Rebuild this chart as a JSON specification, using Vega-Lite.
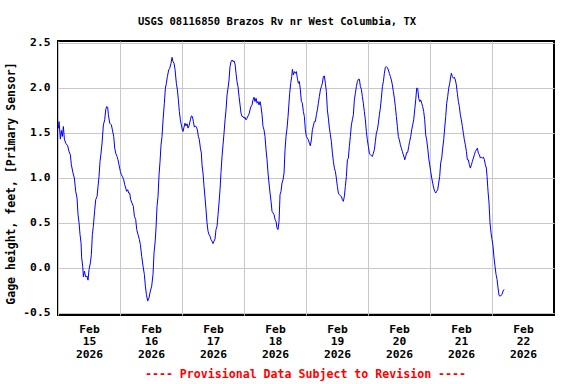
{
"$schema": "https://vega.github.io/schema/vega-lite/v6.json",
"width": 496, "height": 274,
"autosize": {"type": "none"},
"padding": {"left": 58, "top": 41, "right": 22, "bottom": 69},
"background": "white",
"title": {"text": "USGS 08116850 Brazos Rv nr West Columbia, TX", "font": "DejaVu Sans Mono", "fontSize": 10.5, "fontWeight": "bold", "color": "black", "anchor": "middle", "dx": -29, "offset": 1, "baseline": "alphabetic"},
"config": {"view": {"stroke": "black", "strokeWidth": 2}},
"data": {"values": [
{"t":"2026-02-14T12:08","v":1.55},{"t":"2026-02-14T12:24","v":1.625},{"t":"2026-02-14T12:55","v":1.43},{"t":"2026-02-14T13:18","v":1.526},{"t":"2026-02-14T13:41","v":1.46},{"t":"2026-02-14T14:05","v":1.57},{"t":"2026-02-14T14:28","v":1.43},{"t":"2026-02-14T14:59","v":1.385},{"t":"2026-02-14T15:45","v":1.356},{"t":"2026-02-14T16:16","v":1.293},{"t":"2026-02-14T16:47","v":1.256},{"t":"2026-02-14T17:10","v":1.145},{"t":"2026-02-14T17:49","v":1.053},{"t":"2026-02-14T18:20","v":0.997},{"t":"2026-02-14T18:51","v":0.85},{"t":"2026-02-14T19:22","v":0.776},{"t":"2026-02-14T19:45","v":0.591},{"t":"2026-02-14T20:08","v":0.506},{"t":"2026-02-14T20:32","v":0.369},{"t":"2026-02-14T20:55","v":0.277},{"t":"2026-02-14T21:10","v":0.111},{"t":"2026-02-14T21:34","v":0.018},{"t":"2026-02-14T21:49","v":-0.10},{"t":"2026-02-14T22:13","v":-0.037},{"t":"2026-02-14T22:43","v":-0.10},{"t":"2026-02-14T23:14","v":-0.092},{"t":"2026-02-14T23:37","v":-0.137},
{"t":"2026-02-15T00:01","v":-0.018},{"t":"2026-02-15T00:32","v":0.055},{"t":"2026-02-15T00:55","v":0.148},{"t":"2026-02-15T01:18","v":0.369},{"t":"2026-02-15T01:41","v":0.462},{"t":"2026-02-15T02:12","v":0.639},{"t":"2026-02-15T02:36","v":0.757},{"t":"2026-02-15T03:07","v":0.794},{"t":"2026-02-15T03:30","v":0.905},{"t":"2026-02-15T03:53","v":1.016},{"t":"2026-02-15T04:16","v":1.182},{"t":"2026-02-15T04:40","v":1.274},{"t":"2026-02-15T05:03","v":1.385},{"t":"2026-02-15T05:34","v":1.588},{"t":"2026-02-15T06:05","v":1.644},{"t":"2026-02-15T06:28","v":1.755},{"t":"2026-02-15T06:51","v":1.792},{"t":"2026-02-15T07:14","v":1.784},{"t":"2026-02-15T07:30","v":1.70},{"t":"2026-02-15T08:01","v":1.607},{"t":"2026-02-15T08:40","v":1.588},{"t":"2026-02-15T09:03","v":1.533},{"t":"2026-02-15T09:34","v":1.459},{"t":"2026-02-15T09:57","v":1.33},{"t":"2026-02-15T10:20","v":1.274},{"t":"2026-02-15T10:51","v":1.238},{"t":"2026-02-15T11:14","v":1.20},{"t":"2026-02-15T11:37","v":1.145},{"t":"2026-02-15T12:08","v":1.071},{"t":"2026-02-15T12:32","v":1.034},{"t":"2026-02-15T12:55","v":1.016},{"t":"2026-02-15T13:26","v":0.979},{"t":"2026-02-15T13:49","v":0.924},{"t":"2026-02-15T14:12","v":0.887},{"t":"2026-02-15T14:35","v":0.85},{"t":"2026-02-15T14:59","v":0.868},{"t":"2026-02-15T15:22","v":0.831},{"t":"2026-02-15T15:45","v":0.831},{"t":"2026-02-15T16:08","v":0.757},{"t":"2026-02-15T16:39","v":0.72},{"t":"2026-02-15T17:10","v":0.683},{"t":"2026-02-15T17:34","v":0.573},{"t":"2026-02-15T18:05","v":0.536},{"t":"2026-02-15T18:28","v":0.425},{"t":"2026-02-15T18:59","v":0.369},{"t":"2026-02-15T19:30","v":0.314},{"t":"2026-02-15T19:53","v":0.259},{"t":"2026-02-15T20:24","v":0.129},{"t":"2026-02-15T20:55","v":0.018},{"t":"2026-02-15T21:26","v":-0.074},{"t":"2026-02-15T21:49","v":-0.203},{"t":"2026-02-15T22:13","v":-0.296},{"t":"2026-02-15T22:43","v":-0.369},{"t":"2026-02-15T23:14","v":-0.332},{"t":"2026-02-15T23:45","v":-0.259},
{"t":"2026-02-16T00:16","v":-0.203},{"t":"2026-02-16T00:47","v":-0.074},{"t":"2026-02-16T01:10","v":0.166},{"t":"2026-02-16T01:34","v":0.277},{"t":"2026-02-16T01:57","v":0.443},{"t":"2026-02-16T02:20","v":0.683},{"t":"2026-02-16T02:43","v":0.794},{"t":"2026-02-16T03:07","v":1.034},{"t":"2026-02-16T03:30","v":1.182},{"t":"2026-02-16T03:53","v":1.367},{"t":"2026-02-16T04:16","v":1.459},{"t":"2026-02-16T04:40","v":1.644},{"t":"2026-02-16T05:10","v":1.829},{"t":"2026-02-16T05:34","v":1.995},{"t":"2026-02-16T05:57","v":2.05},{"t":"2026-02-16T06:20","v":2.124},{"t":"2026-02-16T06:51","v":2.198},{"t":"2026-02-16T07:14","v":2.216},{"t":"2026-02-16T07:45","v":2.272},{"t":"2026-02-16T08:08","v":2.338},{"t":"2026-02-16T08:32","v":2.29},{"t":"2026-02-16T08:55","v":2.272},{"t":"2026-02-16T09:18","v":2.205},{"t":"2026-02-16T09:49","v":2.05},{"t":"2026-02-16T10:13","v":1.976},{"t":"2026-02-16T10:36","v":1.866},{"t":"2026-02-16T10:59","v":1.736},{"t":"2026-02-16T11:22","v":1.644},{"t":"2026-02-16T11:45","v":1.588},{"t":"2026-02-16T12:08","v":1.533},{"t":"2026-02-16T12:24","v":1.515},{"t":"2026-02-16T12:47","v":1.563},{"t":"2026-02-16T13:10","v":1.607},{"t":"2026-02-16T13:34","v":1.577},{"t":"2026-02-16T13:57","v":1.60},{"t":"2026-02-16T14:20","v":1.552},{"t":"2026-02-16T14:43","v":1.577},{"t":"2026-02-16T15:14","v":1.644},{"t":"2026-02-16T15:38","v":1.688},{"t":"2026-02-16T16:01","v":1.681},{"t":"2026-02-16T16:24","v":1.625},{"t":"2026-02-16T16:47","v":1.563},{"t":"2026-02-16T17:11","v":1.577},{"t":"2026-02-16T17:34","v":1.563},{"t":"2026-02-16T17:57","v":1.533},{"t":"2026-02-16T18:20","v":1.459},{"t":"2026-02-16T18:43","v":1.422},{"t":"2026-02-16T19:07","v":1.33},{"t":"2026-02-16T19:30","v":1.274},{"t":"2026-02-16T19:45","v":1.145},{"t":"2026-02-16T20:08","v":1.053},{"t":"2026-02-16T20:32","v":0.905},{"t":"2026-02-16T20:55","v":0.776},{"t":"2026-02-16T21:18","v":0.646},{"t":"2026-02-16T21:41","v":0.499},{"t":"2026-02-16T22:05","v":0.406},{"t":"2026-02-16T22:28","v":0.369},{"t":"2026-02-16T22:51","v":0.351},{"t":"2026-02-16T23:14","v":0.314},{"t":"2026-02-16T23:38","v":0.296},
{"t":"2026-02-17T00:01","v":0.27},{"t":"2026-02-17T00:24","v":0.296},{"t":"2026-02-17T00:47","v":0.321},{"t":"2026-02-17T01:10","v":0.425},{"t":"2026-02-17T01:34","v":0.462},{"t":"2026-02-17T01:57","v":0.591},{"t":"2026-02-17T02:20","v":0.72},{"t":"2026-02-17T02:43","v":0.868},{"t":"2026-02-17T03:07","v":1.071},{"t":"2026-02-17T03:30","v":1.238},{"t":"2026-02-17T03:53","v":1.367},{"t":"2026-02-17T04:16","v":1.496},{"t":"2026-02-17T04:40","v":1.644},{"t":"2026-02-17T05:03","v":1.755},{"t":"2026-02-17T05:26","v":1.921},{"t":"2026-02-17T05:49","v":1.995},{"t":"2026-02-17T06:12","v":2.087},{"t":"2026-02-17T06:35","v":2.235},{"t":"2026-02-17T06:59","v":2.29},{"t":"2026-02-17T07:22","v":2.309},{"t":"2026-02-17T07:45","v":2.29},{"t":"2026-02-17T08:08","v":2.30},{"t":"2026-02-17T08:32","v":2.264},{"t":"2026-02-17T08:55","v":2.161},{"t":"2026-02-17T09:18","v":2.069},{"t":"2026-02-17T09:41","v":2.013},{"t":"2026-02-17T10:05","v":1.902},{"t":"2026-02-17T10:28","v":1.81},{"t":"2026-02-17T10:51","v":1.718},{"t":"2026-02-17T11:14","v":1.681},{"t":"2026-02-17T11:38","v":1.681},{"t":"2026-02-17T12:01","v":1.662},{"t":"2026-02-17T12:24","v":1.673},{"t":"2026-02-17T12:47","v":1.644},{"t":"2026-02-17T13:10","v":1.662},{"t":"2026-02-17T13:34","v":1.688},{"t":"2026-02-17T13:57","v":1.71},{"t":"2026-02-17T14:20","v":1.755},{"t":"2026-02-17T14:43","v":1.792},{"t":"2026-02-17T15:07","v":1.81},{"t":"2026-02-17T15:30","v":1.866},{"t":"2026-02-17T15:53","v":1.895},{"t":"2026-02-17T16:16","v":1.847},{"t":"2026-02-17T16:40","v":1.884},{"t":"2026-02-17T17:03","v":1.829},{"t":"2026-02-17T17:26","v":1.847},{"t":"2026-02-17T17:49","v":1.81},{"t":"2026-02-17T18:12","v":1.847},{"t":"2026-02-17T18:35","v":1.792},{"t":"2026-02-17T18:59","v":1.70},{"t":"2026-02-17T19:22","v":1.57},{"t":"2026-02-17T19:45","v":1.533},{"t":"2026-02-17T20:08","v":1.459},{"t":"2026-02-17T20:32","v":1.311},{"t":"2026-02-17T20:55","v":1.20},{"t":"2026-02-17T21:18","v":1.053},{"t":"2026-02-17T21:41","v":0.942},{"t":"2026-02-17T22:05","v":0.831},{"t":"2026-02-17T22:28","v":0.739},{"t":"2026-02-17T22:51","v":0.628},{"t":"2026-02-17T23:14","v":0.61},{"t":"2026-02-17T23:38","v":0.591},
{"t":"2026-02-18T00:01","v":0.536},{"t":"2026-02-18T00:24","v":0.517},{"t":"2026-02-18T00:47","v":0.443},{"t":"2026-02-18T01:10","v":0.425},{"t":"2026-02-18T01:34","v":0.517},{"t":"2026-02-18T01:57","v":0.813},{"t":"2026-02-18T02:20","v":0.85},{"t":"2026-02-18T02:43","v":0.942},{"t":"2026-02-18T03:07","v":0.979},{"t":"2026-02-18T03:30","v":1.053},{"t":"2026-02-18T03:53","v":1.311},{"t":"2026-02-18T04:16","v":1.459},{"t":"2026-02-18T04:40","v":1.552},{"t":"2026-02-18T05:03","v":1.681},{"t":"2026-02-18T05:41","v":1.939},{"t":"2026-02-18T06:05","v":2.05},{"t":"2026-02-18T06:28","v":2.124},{"t":"2026-02-18T06:44","v":2.205},{"t":"2026-02-18T07:07","v":2.143},{"t":"2026-02-18T07:30","v":2.18},{"t":"2026-02-18T07:53","v":2.161},{"t":"2026-02-18T08:16","v":2.18},{"t":"2026-02-18T08:40","v":2.106},{"t":"2026-02-18T09:03","v":2.05},{"t":"2026-02-18T09:26","v":2.069},{"t":"2026-02-18T09:49","v":1.976},{"t":"2026-02-18T10:13","v":1.847},{"t":"2026-02-18T10:36","v":1.829},{"t":"2026-02-18T10:59","v":1.736},{"t":"2026-02-18T11:22","v":1.681},{"t":"2026-02-18T11:45","v":1.533},{"t":"2026-02-18T12:08","v":1.459},{"t":"2026-02-18T12:32","v":1.441},{"t":"2026-02-18T12:55","v":1.422},{"t":"2026-02-18T13:18","v":1.385},{"t":"2026-02-18T13:41","v":1.356},{"t":"2026-02-18T14:05","v":1.422},{"t":"2026-02-18T14:28","v":1.533},{"t":"2026-02-18T14:51","v":1.577},{"t":"2026-02-18T15:14","v":1.625},{"t":"2026-02-18T15:38","v":1.625},{"t":"2026-02-18T16:01","v":1.70},{"t":"2026-02-18T16:24","v":1.755},{"t":"2026-02-18T16:47","v":1.829},{"t":"2026-02-18T17:10","v":1.902},{"t":"2026-02-18T17:34","v":1.976},{"t":"2026-02-18T17:57","v":2.013},{"t":"2026-02-18T18:20","v":2.05},{"t":"2026-02-18T18:43","v":2.124},{"t":"2026-02-18T19:07","v":2.131},{"t":"2026-02-18T19:30","v":2.05},{"t":"2026-02-18T19:53","v":1.958},{"t":"2026-02-18T20:16","v":1.755},{"t":"2026-02-18T20:40","v":1.662},{"t":"2026-02-18T21:03","v":1.552},{"t":"2026-02-18T21:26","v":1.478},{"t":"2026-02-18T21:49","v":1.404},{"t":"2026-02-18T22:13","v":1.274},{"t":"2026-02-18T22:36","v":1.182},{"t":"2026-02-18T22:59","v":1.108},{"t":"2026-02-18T23:22","v":1.071},{"t":"2026-02-18T23:45","v":0.997},
{"t":"2026-02-19T00:08","v":0.905},{"t":"2026-02-19T00:32","v":0.831},{"t":"2026-02-19T00:55","v":0.813},{"t":"2026-02-19T01:18","v":0.80},{"t":"2026-02-19T01:41","v":0.794},{"t":"2026-02-19T02:05","v":0.757},{"t":"2026-02-19T02:28","v":0.739},{"t":"2026-02-19T02:51","v":0.794},{"t":"2026-02-19T03:14","v":0.905},{"t":"2026-02-19T03:38","v":1.016},{"t":"2026-02-19T04:01","v":1.20},{"t":"2026-02-19T04:24","v":1.219},{"t":"2026-02-19T04:47","v":1.348},{"t":"2026-02-19T05:10","v":1.459},{"t":"2026-02-19T05:34","v":1.588},{"t":"2026-02-19T05:57","v":1.644},{"t":"2026-02-19T06:20","v":1.70},{"t":"2026-02-19T06:43","v":1.866},{"t":"2026-02-19T07:07","v":1.939},{"t":"2026-02-19T07:30","v":2.013},{"t":"2026-02-19T07:53","v":2.069},{"t":"2026-02-19T08:16","v":2.095},{"t":"2026-02-19T08:40","v":2.095},{"t":"2026-02-19T09:03","v":2.013},{"t":"2026-02-19T09:26","v":1.984},{"t":"2026-02-19T09:49","v":1.902},{"t":"2026-02-19T10:12","v":1.829},{"t":"2026-02-19T10:35","v":1.736},{"t":"2026-02-19T10:59","v":1.644},{"t":"2026-02-19T11:22","v":1.515},{"t":"2026-02-19T11:45","v":1.422},{"t":"2026-02-19T12:08","v":1.348},{"t":"2026-02-19T12:32","v":1.274},{"t":"2026-02-19T12:55","v":1.256},{"t":"2026-02-19T13:18","v":1.245},{"t":"2026-02-19T13:41","v":1.238},{"t":"2026-02-19T14:05","v":1.274},{"t":"2026-02-19T14:28","v":1.311},{"t":"2026-02-19T14:51","v":1.404},{"t":"2026-02-19T15:14","v":1.496},{"t":"2026-02-19T15:38","v":1.533},{"t":"2026-02-19T16:01","v":1.607},{"t":"2026-02-19T16:24","v":1.70},{"t":"2026-02-19T16:47","v":1.773},{"t":"2026-02-19T17:10","v":1.884},{"t":"2026-02-19T17:34","v":2.013},{"t":"2026-02-19T17:57","v":2.069},{"t":"2026-02-19T18:20","v":2.161},{"t":"2026-02-19T18:43","v":2.228},{"t":"2026-02-19T19:07","v":2.235},{"t":"2026-02-19T19:30","v":2.224},{"t":"2026-02-19T19:53","v":2.198},{"t":"2026-02-19T20:16","v":2.161},{"t":"2026-02-19T20:40","v":2.124},{"t":"2026-02-19T21:03","v":2.087},{"t":"2026-02-19T21:26","v":2.032},{"t":"2026-02-19T21:49","v":1.958},{"t":"2026-02-19T22:12","v":1.884},{"t":"2026-02-19T22:35","v":1.792},{"t":"2026-02-19T22:59","v":1.681},{"t":"2026-02-19T23:22","v":1.57},{"t":"2026-02-19T23:45","v":1.459},
{"t":"2026-02-20T00:08","v":1.422},{"t":"2026-02-20T00:32","v":1.367},{"t":"2026-02-20T00:55","v":1.33},{"t":"2026-02-20T01:18","v":1.293},{"t":"2026-02-20T01:41","v":1.256},{"t":"2026-02-20T02:05","v":1.219},{"t":"2026-02-20T02:13","v":1.20},{"t":"2026-02-20T02:36","v":1.238},{"t":"2026-02-20T02:59","v":1.282},{"t":"2026-02-20T03:22","v":1.282},{"t":"2026-02-20T03:45","v":1.348},{"t":"2026-02-20T04:08","v":1.404},{"t":"2026-02-20T04:32","v":1.459},{"t":"2026-02-20T04:55","v":1.533},{"t":"2026-02-20T05:18","v":1.588},{"t":"2026-02-20T05:41","v":1.644},{"t":"2026-02-20T06:05","v":1.755},{"t":"2026-02-20T06:28","v":1.866},{"t":"2026-02-20T06:51","v":1.995},{"t":"2026-02-20T07:14","v":1.995},{"t":"2026-02-20T07:38","v":1.884},{"t":"2026-02-20T08:01","v":1.847},{"t":"2026-02-20T08:24","v":1.866},{"t":"2026-02-20T08:47","v":1.829},{"t":"2026-02-20T09:10","v":1.792},{"t":"2026-02-20T09:34","v":1.736},{"t":"2026-02-20T09:57","v":1.644},{"t":"2026-02-20T10:20","v":1.478},{"t":"2026-02-20T10:43","v":1.422},{"t":"2026-02-20T11:07","v":1.33},{"t":"2026-02-20T11:30","v":1.219},{"t":"2026-02-20T11:53","v":1.145},{"t":"2026-02-20T12:16","v":1.071},{"t":"2026-02-20T12:40","v":0.997},{"t":"2026-02-20T13:03","v":0.942},{"t":"2026-02-20T13:26","v":0.887},{"t":"2026-02-20T13:49","v":0.85},{"t":"2026-02-20T14:12","v":0.831},{"t":"2026-02-20T14:35","v":0.85},{"t":"2026-02-20T14:59","v":0.868},{"t":"2026-02-20T15:22","v":0.942},{"t":"2026-02-20T15:45","v":1.016},{"t":"2026-02-20T16:08","v":1.164},{"t":"2026-02-20T16:32","v":1.219},{"t":"2026-02-20T16:55","v":1.33},{"t":"2026-02-20T17:18","v":1.422},{"t":"2026-02-20T17:41","v":1.552},{"t":"2026-02-20T18:05","v":1.681},{"t":"2026-02-20T18:28","v":1.829},{"t":"2026-02-20T18:51","v":1.902},{"t":"2026-02-20T19:14","v":1.995},{"t":"2026-02-20T19:38","v":2.05},{"t":"2026-02-20T20:01","v":2.124},{"t":"2026-02-20T20:16","v":2.161},{"t":"2026-02-20T20:40","v":2.124},{"t":"2026-02-20T21:03","v":2.106},{"t":"2026-02-20T21:26","v":2.117},{"t":"2026-02-20T21:49","v":2.087},{"t":"2026-02-20T22:12","v":2.032},{"t":"2026-02-20T22:35","v":1.939},{"t":"2026-02-20T22:59","v":1.847},{"t":"2026-02-20T23:22","v":1.792},{"t":"2026-02-20T23:45","v":1.70},
{"t":"2026-02-21T00:08","v":1.644},{"t":"2026-02-21T00:32","v":1.57},{"t":"2026-02-21T00:55","v":1.496},{"t":"2026-02-21T01:18","v":1.422},{"t":"2026-02-21T01:41","v":1.367},{"t":"2026-02-21T02:05","v":1.293},{"t":"2026-02-21T02:28","v":1.20},{"t":"2026-02-21T02:51","v":1.20},{"t":"2026-02-21T03:14","v":1.145},{"t":"2026-02-21T03:38","v":1.108},{"t":"2026-02-21T04:01","v":1.145},{"t":"2026-02-21T04:24","v":1.182},{"t":"2026-02-21T04:47","v":1.219},{"t":"2026-02-21T05:10","v":1.256},{"t":"2026-02-21T05:34","v":1.293},{"t":"2026-02-21T05:57","v":1.311},{"t":"2026-02-21T06:20","v":1.33},{"t":"2026-02-21T06:43","v":1.274},{"t":"2026-02-21T07:07","v":1.256},{"t":"2026-02-21T07:30","v":1.219},{"t":"2026-02-21T07:53","v":1.23},{"t":"2026-02-21T08:16","v":1.219},{"t":"2026-02-21T08:40","v":1.23},{"t":"2026-02-21T09:03","v":1.20},{"t":"2026-02-21T09:26","v":1.145},{"t":"2026-02-21T09:49","v":1.108},{"t":"2026-02-21T10:05","v":1.016},{"t":"2026-02-21T10:28","v":0.85},{"t":"2026-02-21T10:51","v":0.72},{"t":"2026-02-21T11:14","v":0.499},{"t":"2026-02-21T11:38","v":0.388},{"t":"2026-02-21T12:01","v":0.314},{"t":"2026-02-21T12:24","v":0.24},{"t":"2026-02-21T12:47","v":0.111},{"t":"2026-02-21T13:10","v":0.018},{"t":"2026-02-21T13:34","v":-0.074},{"t":"2026-02-21T13:57","v":-0.129},{"t":"2026-02-21T14:20","v":-0.222},{"t":"2026-02-21T14:43","v":-0.307},{"t":"2026-02-21T15:07","v":-0.314},{"t":"2026-02-21T15:30","v":-0.307},{"t":"2026-02-21T15:53","v":-0.296},{"t":"2026-02-21T16:16","v":-0.259},{"t":"2026-02-21T16:40","v":-0.24}
]},
"mark": {"type": "line", "color": "#0000ff", "strokeWidth": 1},
"encoding": {
"x": {"field": "t", "type": "temporal",
 "scale": {"domain": [{"year": 2026, "month": 2, "date": 14, "hours": 12}, {"year": 2026, "month": 2, "date": 22, "hours": 12}]},
 "axis": {"values": [{"year": 2026, "month": 2, "date": 14, "hours": 12}, {"year": 2026, "month": 2, "date": 15, "hours": 12}, {"year": 2026, "month": 2, "date": 16, "hours": 12}, {"year": 2026, "month": 2, "date": 17, "hours": 12}, {"year": 2026, "month": 2, "date": 18, "hours": 12}, {"year": 2026, "month": 2, "date": 19, "hours": 12}, {"year": 2026, "month": 2, "date": 20, "hours": 12}, {"year": 2026, "month": 2, "date": 21, "hours": 12}],
  "grid": true, "gridColor": "#c8c8c8", "gridWidth": 1, "ticks": false, "domain": false,
  "labelOffset": 31,
  "labelExpr": "[timeFormat(time(datum.value) + 43200000, '%b'), timeFormat(time(datum.value) + 43200000, '%d'), timeFormat(time(datum.value) + 43200000, '%Y')]",
  "labelFont": "DejaVu Sans Mono", "labelFontWeight": "bold", "labelFontSize": 11.3, "labelLineHeight": 12.8, "labelColor": "black",
  "labelPadding": 8, "labelFlush": false, "labelOverlap": false, "labelBound": false, "labelBaseline": "top", "labelAlign": "center",
  "title": "---- Provisional Data Subject to Revision ----", "titleColor": "red", "titleFont": "DejaVu Sans Mono", "titleFontWeight": "bold", "titleFontSize": 11.6,
  "titleX": 247, "titleY": 62, "titleBaseline": "alphabetic", "titleAlign": "center"}},
"y": {"field": "v", "type": "quantitative",
 "scale": {"domain": [-0.524, 2.52], "nice": false, "zero": false},
 "axis": {"values": [-0.5, 0, 0.5, 1, 1.5, 2, 2.5],
  "labelExpr": "datum.value < 0 ? '-' + format(-datum.value, '.1f') : format(datum.value, '.1f')",
  "grid": true, "gridColor": "#c8c8c8", "gridWidth": 1, "ticks": false, "domain": false,
  "labelFont": "DejaVu Sans Mono", "labelFontWeight": "bold", "labelFontSize": 11.3, "labelColor": "black", "labelPadding": 8,
  "title": "Gage height, feet, [Primary Sensor]", "titleFont": "DejaVu Sans Mono", "titleFontSize": 11.5, "titleFontWeight": "bold", "titleColor": "black",
  "titleAngle": -90, "titleX": -44, "titleY": 142, "titleAlign": "center", "titleBaseline": "alphabetic"}}
}
}
